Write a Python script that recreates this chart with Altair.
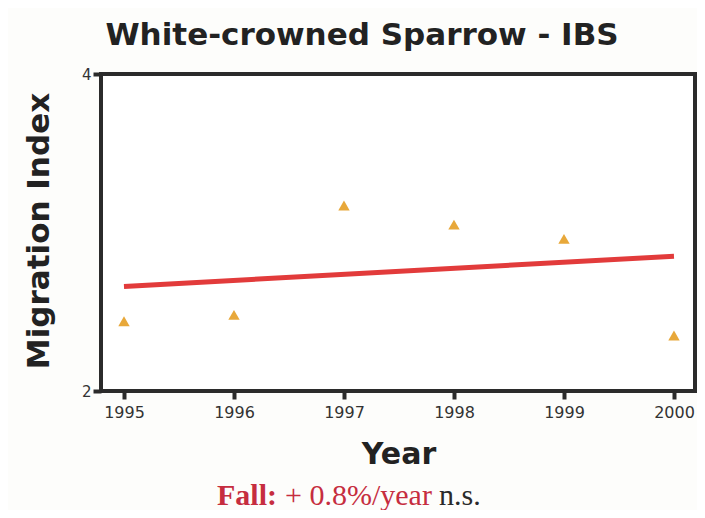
import altair as alt
import pandas as pd

years = [1995, 1996, 1997, 1998, 1999, 2000]
index_vals = [2.44, 2.48, 3.17, 3.05, 2.96, 2.35]
trend_years = [1995, 2000]
trend_vals = [2.66, 2.85]
x_ticks = [1995, 1996, 1997, 1998, 1999, 2000]
y_ticks = [2, 4]

pts = pd.DataFrame({"Year": years, "Index": index_vals})
trend = pd.DataFrame({"Year": trend_years, "Index": trend_vals})

DARK = "#2b2b2b"
x_scale = alt.Scale(domain=[1994.791, 2000.191], nice=False, zero=False)
y_scale = alt.Scale(domain=[2, 4], nice=False, zero=False)

x_axis = alt.Axis(values=x_ticks, format="d", title=None, domain=False, grid=False,
                  tickSize=8, tickWidth=4, tickColor=DARK, labelFont="DejaVu Sans",
                  labelFontSize=16, labelColor="#333333", labelPadding=5)
y_axis = alt.Axis(values=y_ticks, format="d", title=None, domain=False, grid=False,
                  tickSize=8, tickWidth=4, tickColor=DARK, labelFont="DejaVu Sans",
                  labelFontSize=15, labelColor="#333333", labelPadding=2)

points = alt.Chart(pts).mark_point(shape="triangle-up", filled=True, size=130,
                                   color="#E8A83A", opacity=1).encode(
    x=alt.X("Year:Q", scale=x_scale, axis=x_axis),
    y=alt.Y("Index:Q", scale=y_scale, axis=y_axis),
)

line = alt.Chart(trend).mark_line(color="#E23B3B", strokeWidth=5).encode(
    x=alt.X("Year:Q", scale=x_scale),
    y=alt.Y("Index:Q", scale=y_scale),
)

def txt(s, x, y, **kw):
    return alt.Chart(pd.DataFrame({"t": [s]})).mark_text(**kw).encode(
        text="t:N", x=alt.value(x), y=alt.value(y))

title = txt("White-crowned Sparrow - IBS", 261, -29, font="DejaVu Sans", fontSize=31,
            fontWeight="bold", color="#222222", align="center", baseline="alphabetic")
ytitle = txt("Migration Index", -61, 157, font="DejaVu Sans", fontSize=31,
             fontWeight="bold", color="#222222", align="center", baseline="middle", angle=270)
xtitle = txt("Year", 298, 390, font="DejaVu Sans", fontSize=30,
             fontWeight="bold", color="#222222", align="center", baseline="alphabetic")
cap1 = txt("Fall:", 116, 431, font="Liberation Serif", fontSize=30, fontWeight="bold",
           color="#C62D3F", align="left", baseline="alphabetic")
cap2 = txt("+ 0.8%/year", 184, 431, font="Liberation Serif", fontSize=30,
           color="#C62D3F", align="left", baseline="alphabetic")
cap3 = txt("n.s.", 338, 431, font="Liberation Serif", fontSize=30,
           color="#2a2a2a", align="left", baseline="alphabetic")

chart = alt.layer(line, points, title, ytitle, xtitle, cap1, cap2, cap3).properties(
    width=594, height=317,
    autosize=alt.AutoSizeParams(type="none"),
    padding={"left": 93, "top": 66, "right": 2, "bottom": 119},
    background="#fdfdfb",
).configure_view(stroke=DARK, strokeWidth=4, fill="white")

chart.save("out.html", embed_options={"renderer": "svg", "actions": False})
